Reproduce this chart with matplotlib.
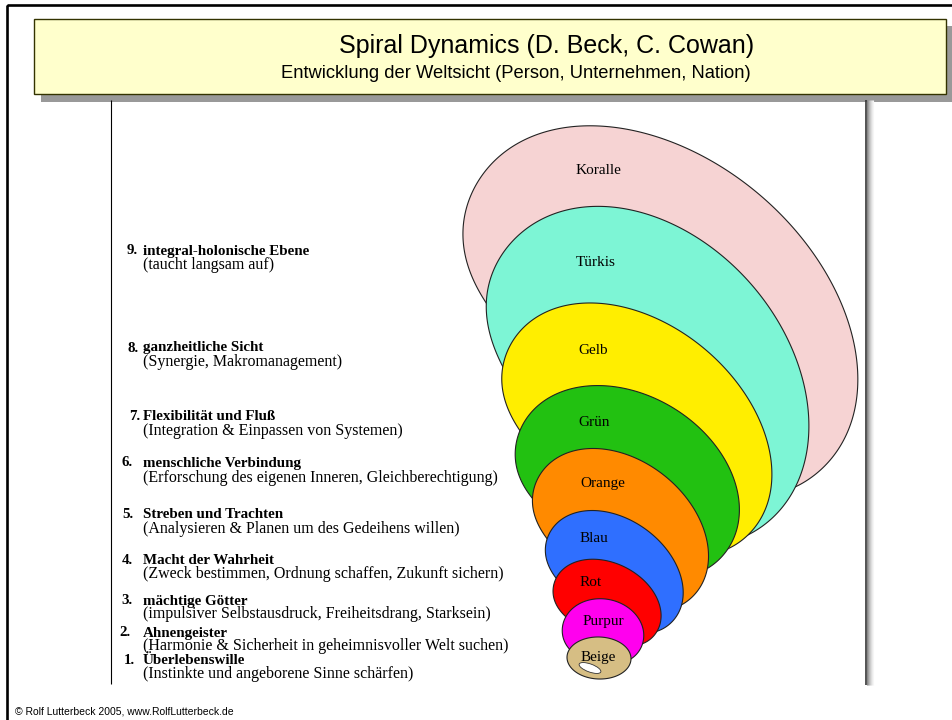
import numpy as np
import matplotlib
matplotlib.use('Agg')
import matplotlib.pyplot as plt
from matplotlib.patches import Ellipse, Rectangle, Polygon

# Levels of the spiral, from the inside (1) to the outside (9)
level_numbers = ['1.', '2.', '3.', '4.', '5.', '6.', '7.', '8.', '9.']
level_titles = ['Überlebenswille', 'Ahnengeister', 'mächtige Götter', 'Macht der Wahrheit',
                'Streben und Trachten', 'menschliche Verbindung', 'Flexibilität und Fluß',
                'ganzheitliche Sicht', 'integral-holonische Ebene']
level_notes = ['(Instinkte und angeborene Sinne schärfen)',
               '(Harmonie & Sicherheit in geheimnisvoller Welt suchen)',
               '(impulsiver Selbstausdruck, Freiheitsdrang, Starksein)',
               '(Zweck bestimmen, Ordnung schaffen, Zukunft sichern)',
               '(Analysieren & Planen um des Gedeihens willen)',
               '(Erforschung des eigenen Inneren, Gleichberechtigung)',
               '(Integration & Einpassen von Systemen)',
               '(Synergie, Makromanagement)',
               '(taucht langsam auf)']
meme_names = ['Beige', 'Purpur', 'Rot', 'Blau', 'Orange', 'Grün', 'Gelb', 'Türkis', 'Koralle']
meme_colors = ['#D6BE84', '#FF00EE', '#FF0000', '#2F6FFF', '#FF8A00', '#22C111', '#FFEE00',
               '#7DF5D5', '#F6D3D3']

title = 'Spiral Dynamics (D. Beck, C. Cowan)'
subtitle = 'Entwicklung der Weltsicht (Person, Unternehmen, Nation)'
footer = '© Rolf Lutterbeck 2005, www.RolfLutterbeck.de'

# layout in pixels (y downwards)
num_right = [135, 131, 133, 133, 133, 133, 140, 139, 138]
line1_y = [660, 633, 601, 560, 514, 463, 417, 348, 251]
line2_y = [674, 646, 614, 574, 529, 478, 431, 362, 265]
# egg geometry: centre x, centre y, semi major, semi minor, angle, tuck of the lower side
ell_cx = [599, 603, 607, 614, 620, 627, 636, 645, 659]
ell_cy = [658, 633, 604, 573, 531, 484, 431, 377, 314]
ell_a = [32, 41, 57, 76, 98, 120, 153, 190, 225]
ell_b = [21, 34, 41, 54, 71, 89, 107, 141, 156]
ell_ang = [2, 11, 27, 36, 38.5, 31.5, 40, 49, 40.5]
ell_tuck = [0, 0.1, 0.18, 0.2, 0.2, 0.2, 0.22, 0.22, 0.25]
label_x = [598, 603, 591, 594, 603, 594, 593, 596, 598]
label_y = [657, 621, 583, 538, 483, 423, 350, 263, 170]

serif = ['Liberation Serif', 'DejaVu Serif']
sans = ['Liberation Sans', 'DejaVu Sans']


def egg(cx, cy, a, b, ang, tuck):
    t = np.linspace(0, 2 * np.pi, 361)
    u = a * np.cos(t)
    v = b * np.sin(t)
    low = v > 0
    v[low] *= 1 - tuck * (1 - (u[low] / a) ** 2)
    th = np.radians(ang)
    x = cx + u * np.cos(th) - v * np.sin(th)
    y = cy + u * np.sin(th) + v * np.cos(th)
    return np.column_stack([x, y])


fig = plt.figure(figsize=(9.53, 7.2), dpi=100)
ax = fig.add_axes([0, 0, 1, 1])
ax.set_xlim(0, 953)
ax.set_ylim(720, 0)
ax.axis('off')

# outer slide frame
ax.add_patch(Rectangle((7, 5), 980, 740, fill=False, ec='black', lw=1.9))

# picture panel borders
ax.vlines(111, 100, 684, color='black', lw=0.8)
ax.vlines(866, 100, 685, color='#333333', lw=1.2)
shade = ['#888888', '#a0a0a0', '#b8b8b8', '#cccccc', '#dddddd', '#ebebeb', '#f5f5f5']
for i, c in enumerate(shade):
    ax.vlines(867.5 + i, 100, 685, color=c, lw=0.8)

# title box with shadow
ax.add_patch(Rectangle((41, 26), 913, 76, fc='#999999', ec='none'))
ax.add_patch(Rectangle((34, 19), 912, 75, fc='#FFFFCC', ec='#333300', lw=1.0))
ax.text(547, 46, title, family=sans, fontsize=18, ha='center', va='center')
ax.text(516, 74, subtitle, family=sans, fontsize=13.2, ha='center', va='center')

# nested shapes, outermost first
for i in range(len(meme_names) - 1, -1, -1):
    ax.add_patch(Polygon(egg(ell_cx[i], ell_cy[i], ell_a[i], ell_b[i], ell_ang[i], ell_tuck[i]),
                         closed=True, fc=meme_colors[i], ec='#222222', lw=0.8))
# little seed inside beige
ax.add_patch(Ellipse((590, 668), 23, 8, angle=20, fc='white', ec='#333333', lw=0.6))
for i, name in enumerate(meme_names):
    ax.text(label_x[i], label_y[i], name, family=serif, fontsize=11, ha='center', va='center')

# list of levels
for i in range(len(level_titles)):
    ax.text(num_right[i], line1_y[i], level_numbers[i], family=serif, fontsize=10.8,
            fontweight='bold', ha='right', va='center')
    ax.text(143, line1_y[i], level_titles[i], family=serif, fontsize=10.8,
            fontweight='bold', ha='left', va='center')
    ax.text(143, line2_y[i], level_notes[i], family=serif, fontsize=11.5,
            ha='left', va='center')

ax.text(15, 711, footer, family=sans, fontsize=7.5, ha='left', va='center')

fig.savefig('out.png', dpi=100)
